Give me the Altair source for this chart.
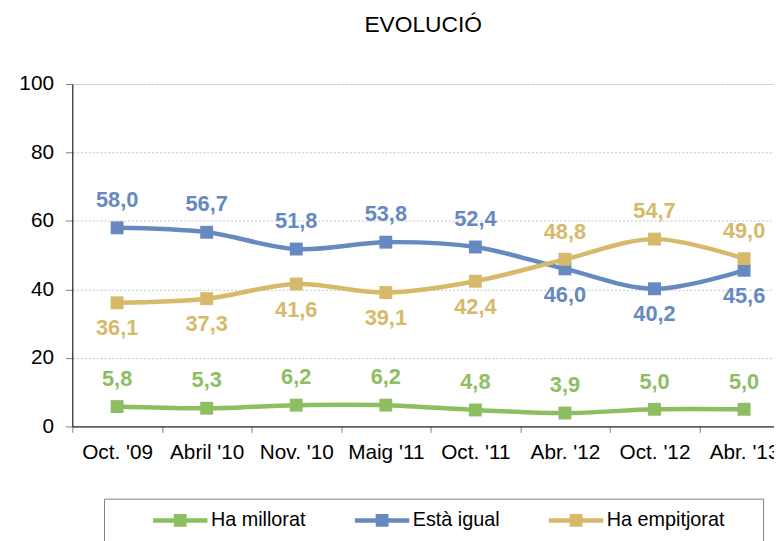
import json
import altair as alt
import pandas as pd

categories = ["Oct. '09", "Abril '10", "Nov. '10", "Maig '11", "Oct. '11", "Abr. '12", "Oct. '12", "Abr. '13"]
series_names = ["Ha millorat", "Està igual", "Ha empitjorat"]
ha_millorat = [5.8, 5.3, 6.2, 6.2, 4.8, 3.9, 5.0, 5.0]
esta_igual = [58.0, 56.7, 51.8, 53.8, 52.4, 46.0, 40.2, 45.6]
ha_empitjorat = [36.1, 37.3, 41.6, 39.1, 42.4, 48.8, 54.7, 49.0]
colors = ["#8DBE62", "#6589C0", "#D6B96A"]
y_ticks = [0, 20, 40, 60, 80, 100]

rows = []
for k, (name, vals) in enumerate(zip(series_names, [ha_millorat, esta_igual, ha_empitjorat])):
    for i, (c, v) in enumerate(zip(categories, vals)):
        if k == 0:
            side = "above"
        elif k == 1:
            side = "above" if v >= ha_empitjorat[i] else "below"
        else:
            side = "above" if v > esta_igual[i] else "below"
        rows.append(dict(idx=i, cat=c, serie=name, value=v,
                         label=f"{v:.1f}".replace(".", ","), side=side, order=k))
df = pd.DataFrame(rows)

FONT = "Liberation Sans"
label_expr = json.dumps(categories) + "[round(datum.value + 0.5)]"

x_enc = alt.X("idx:Q",
              scale=alt.Scale(domain=[-0.5, 7.334], nice=False, zero=False),
              axis=alt.Axis(values=[i - 0.5 for i in range(len(categories))],
                            labelExpr=label_expr, labelOffset=45.25,
                            labelOverlap=False, labelFlush=False, labelBound=False,
                            grid=False, domainColor="black", domainWidth=1,
                            tickColor="#808080", tickSize=6, labelPadding=9,
                            labelFontSize=21, labelColor="black", labelFont=FONT),
              title=None)
y_enc = alt.Y("value:Q",
              scale=alt.Scale(domain=[0, 100], nice=False),
              axis=alt.Axis(values=y_ticks, grid=True, gridDash=[2, 2], gridColor="#c4c4c4",
                            domainColor="black", domainWidth=1, tickColor="#808080",
                            tickSize=7, labelPadding=12, labelFontSize=21,
                            labelColor="black", labelFont=FONT),
              title=None)

sym_path = "M-1,0H1M-0.1545,-0.1545H0.1545V0.1545H-0.1545Z"
color_scale = alt.Scale(domain=series_names, range=colors)
pad_right = "\u00a0" * 7 + "\u200b"
legend = alt.Legend(title=None, orient="none", legendX=32, legendY=419,
                    direction="horizontal", columns=3,
                    symbolType=sym_path, symbolSize=3025, symbolStrokeWidth=4.5,
                    clipHeight=44,
                    labelFontSize=20, labelFont=FONT, labelColor="black", labelOffset=1,
                    labelExpr=f"datum.label == '{series_names[-1]}' ? datum.label + '{pad_right}' : datum.label",
                    columnPadding=-8, padding=0, strokeColor="#808080", fillColor="white",
                    symbolOffset=47)

base = alt.Chart(df)

lines = base.mark_line(interpolate="cardinal", strokeWidth=4.5).encode(
    x=x_enc, y=y_enc,
    color=alt.Color("serie:N", scale=color_scale, legend=legend),
    order=alt.Order("idx:Q"),
)
points = base.mark_square(size=170, opacity=1, filled=True).encode(
    x=x_enc, y=y_enc,
    color=alt.Color("serie:N", scale=color_scale, legend=None),
)
text_above = base.transform_filter(alt.datum.side == "above").mark_text(
    dy=-28, fontSize=22, fontWeight="bold", font=FONT, baseline="middle"
).encode(x=x_enc, y=y_enc, text="label:N",
         color=alt.Color("serie:N", scale=color_scale, legend=None))
text_below = base.transform_filter(alt.datum.side == "below").mark_text(
    dy=26, fontSize=22, fontWeight="bold", font=FONT, baseline="middle"
).encode(x=x_enc, y=y_enc, text="label:N",
         color=alt.Color("serie:N", scale=color_scale, legend=None))

chart = alt.layer(lines, points, text_above, text_below).properties(
    width=709, height=346,
    autosize=alt.AutoSizeParams(type="none"),
    padding={"left": 65, "top": 74, "right": 0, "bottom": 113},
    title=alt.Title("EVOLUCIÓ", fontSize=23, fontWeight="normal", font=FONT,
                    color="black", offset=37, anchor="middle"),
).configure_view(stroke=None).configure(background="white")

chart.save("out.html", embed_options={"renderer": "svg", "actions": False})
